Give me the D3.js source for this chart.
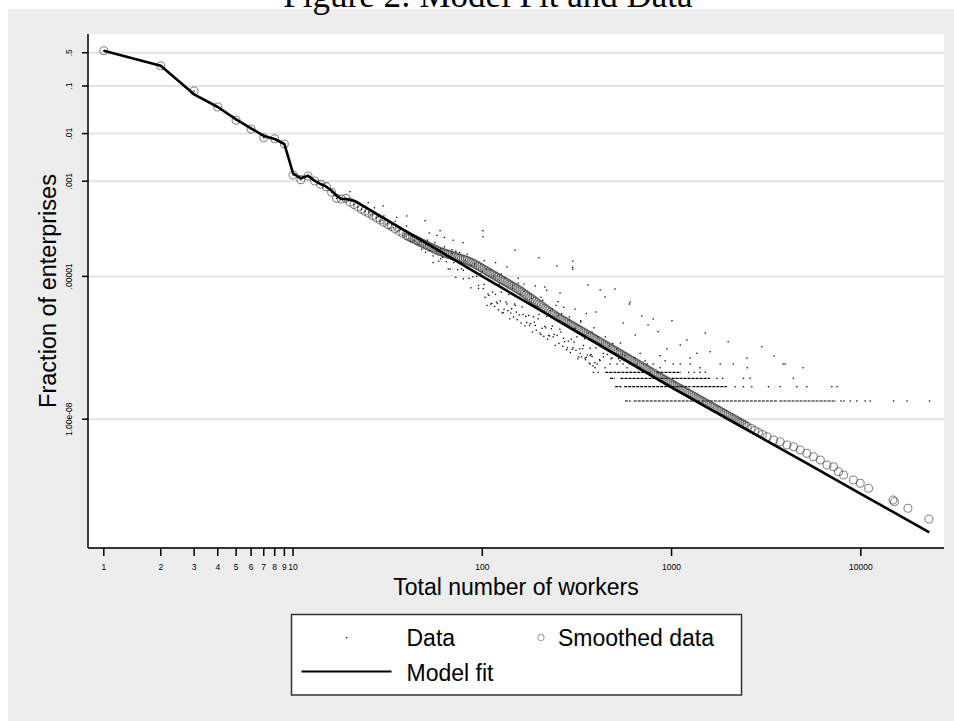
<!DOCTYPE html>
<html>
<head>
<meta charset="utf-8">
<script src="https://cdn.jsdelivr.net/npm/d3@7"></script>
<style>
body { margin: 0; background: #fff; }
svg { display: block; }
</style>
</head>
<body>
<svg id="chart" width="954" height="721"></svg>
<script>
// every pair is [log10(total workers), log10(fraction of enterprises)]

var fitLog = [
  [0,-0.258],[0.301,-0.574],[0.477,-1.174],[0.602,-1.441],[0.699,-1.70],[0.778,-1.889],
  [0.845,-2.05],[0.903,-2.113],[0.954,-2.218],[1,-2.834],[1.041,-2.94],[1.079,-2.884],
  [1.114,-2.99],[1.146,-3.06],[1.176,-3.115],[1.204,-3.2],[1.23,-3.305],[1.255,-3.374],
  [1.279,-3.374],[1.301,-3.395],[1.322,-3.41],[1.342,-3.452],[1.477,-3.769],[1.699,-4.29],
  [2,-5.0],[2.301,-5.70],[2.699,-6.63],[3,-7.33],[3.301,-8.004],[3.699,-8.893],[4,-9.567],[4.362,-10.376]
];

var smoothedLog = [
  [0,-0.258],[0.301,-0.574],[0.477,-1.105],[0.602,-1.441],[0.699,-1.72],[0.778,-1.903],
  [0.845,-2.086],[0.903,-2.107],[0.954,-2.218],[1,-2.87],[1.041,-2.968],[1.079,-2.89],
  [1.114,-2.996],[1.146,-3.065],[1.176,-3.115],[1.204,-3.233],[1.23,-3.36],[1.255,-3.374],
  [1.279,-3.36],[1.301,-3.44],[1.322,-3.49],[1.342,-3.54],[1.362,-3.59],[1.38,-3.63],
  [1.40,-3.672],[1.42,-3.720],[1.44,-3.767],[1.46,-3.814],[1.48,-3.861],[1.50,-3.908],
  [1.52,-3.955],[1.54,-4.002],[1.56,-4.049],[1.58,-4.096],[1.60,-4.143],[1.61,-4.162],
  [1.62,-4.182],[1.63,-4.201],[1.64,-4.221],[1.65,-4.240],[1.66,-4.26],[1.67,-4.279],
  [1.68,-4.299],[1.69,-4.317],[1.70,-4.336],[1.71,-4.355],[1.72,-4.373],[1.73,-4.392],
  [1.74,-4.41],[1.75,-4.429],[1.76,-4.447],[1.77,-4.466],[1.78,-4.483],[1.79,-4.496],
  [1.80,-4.509],[1.81,-4.522],[1.82,-4.535],[1.83,-4.548],[1.84,-4.561],[1.85,-4.574],
  [1.86,-4.587],[1.87,-4.600],[1.88,-4.613],[1.89,-4.626],[1.90,-4.639],[1.91,-4.652],
  [1.92,-4.665],[1.93,-4.683],[1.94,-4.702],[1.95,-4.720],[1.96,-4.739],[1.97,-4.761],
  [1.98,-4.785],[1.99,-4.808],[2.00,-4.832],[2.01,-4.855],[2.02,-4.879],[2.03,-4.902],
  [2.04,-4.925],[2.05,-4.949],[2.06,-4.972],[2.07,-4.995],[2.08,-5.018],[2.09,-5.042],
  [2.10,-5.065],[2.11,-5.088],[2.12,-5.112],[2.13,-5.135],[2.14,-5.158],[2.15,-5.182],
  [2.16,-5.205],[2.17,-5.228],[2.18,-5.251],[2.19,-5.275],[2.20,-5.298],[2.21,-5.326],
  [2.22,-5.355],[2.23,-5.383],[2.24,-5.411],[2.25,-5.440],[2.26,-5.468],[2.27,-5.496],
  [2.28,-5.524],[2.29,-5.553],[2.30,-5.581],[2.31,-5.609],[2.32,-5.638],[2.33,-5.666],
  [2.34,-5.694],[2.35,-5.723],[2.36,-5.751],[2.37,-5.779],[2.38,-5.807],[2.39,-5.834],
  [2.40,-5.858],[2.41,-5.881],[2.42,-5.905],[2.43,-5.928],[2.44,-5.951],[2.45,-5.975],
  [2.46,-5.998],[2.47,-6.021],[2.48,-6.044],[2.49,-6.068],[2.50,-6.091],[2.51,-6.114],
  [2.52,-6.138],[2.53,-6.161],[2.54,-6.184],[2.55,-6.208],[2.56,-6.231],[2.57,-6.254],
  [2.58,-6.277],[2.59,-6.301],[2.60,-6.324],[2.61,-6.347],[2.62,-6.371],[2.63,-6.394],
  [2.64,-6.417],[2.65,-6.441],[2.66,-6.464],[2.67,-6.487],[2.68,-6.510],[2.69,-6.534],
  [2.70,-6.557],[2.71,-6.580],[2.72,-6.604],[2.73,-6.627],[2.74,-6.650],[2.75,-6.674],
  [2.76,-6.697],[2.77,-6.720],[2.78,-6.743],[2.79,-6.767],[2.80,-6.790],[2.81,-6.813],
  [2.82,-6.837],[2.83,-6.860],[2.84,-6.883],[2.85,-6.907],[2.86,-6.930],[2.87,-6.953],
  [2.88,-6.976],[2.89,-7.000],[2.90,-7.023],[2.91,-7.046],[2.92,-7.070],[2.93,-7.093],
  [2.94,-7.116],[2.95,-7.140],[2.96,-7.163],[2.97,-7.186],[2.98,-7.209],[2.99,-7.233],
  [3.00,-7.256],[3.01,-7.278],[3.02,-7.301],[3.03,-7.323],[3.04,-7.345],[3.05,-7.368],
  [3.06,-7.390],[3.07,-7.413],[3.08,-7.435],[3.09,-7.457],[3.10,-7.480],[3.11,-7.502],
  [3.12,-7.524],[3.13,-7.547],[3.14,-7.569],[3.15,-7.592],[3.16,-7.614],[3.17,-7.636],
  [3.18,-7.659],[3.19,-7.681],[3.20,-7.703],[3.21,-7.726],[3.22,-7.748],[3.23,-7.771],
  [3.24,-7.793],[3.25,-7.815],[3.26,-7.838],[3.27,-7.860],[3.28,-7.882],[3.29,-7.905],
  [3.30,-7.927],[3.31,-7.949],[3.32,-7.972],[3.33,-7.994],[3.34,-8.017],[3.35,-8.039],
  [3.36,-8.061],[3.37,-8.084],[3.38,-8.106],[3.39,-8.128],[3.40,-8.151],[3.42,-8.19],
  [3.44,-8.235],[3.46,-8.28],[3.48,-8.32],
  [3.504,-8.368],[3.539,-8.437],[3.574,-8.473],[3.610,-8.542],[3.645,-8.578],[3.680,-8.647],
  [3.715,-8.716],[3.750,-8.788],[3.786,-8.857],[3.821,-8.962],[3.856,-8.998],[3.882,-9.103],
  [3.909,-9.172],[3.961,-9.277],[3.997,-9.347],[4.041,-9.452],[4.170,-9.697],[4.178,-9.733],
  [4.249,-9.872],[4.360,-10.097]
];

var dataLog = [
  [0,-0.258],[0.301,-0.574],[0.477,-1.105],[0.602,-1.441],[0.699,-1.72],[0.778,-1.903],
  [0.845,-2.086],[0.903,-2.107],[0.954,-2.218],[1,-2.87],[1.041,-2.968],[1.079,-2.89],
  [1.114,-2.996],[1.146,-3.065],[1.176,-3.115],[1.204,-3.233],[1.23,-3.36],[1.255,-3.374],
  [1.279,-3.36],[1.301,-3.22],[1.322,-3.49],[1.342,-3.54],[1.362,-3.59],[1.38,-3.63],
  [1.397,-3.45],[1.476,-3.52],[1.548,-3.76],[1.601,-3.73],[1.698,-3.83],[1.777,-4.04],
  [1.846,-4.24],[1.898,-4.29],[2.003,-4.04],[2.003,-4.17],[2.173,-4.45],[2.299,-4.61],
  [2.394,-4.78],[2.478,-4.68],[2.478,-4.81],[2.478,-4.85],
  [1.40,-3.65],[1.41,-3.71],[1.42,-3.69],[1.43,-3.56],[1.44,-3.77],[1.45,-3.75],
  [1.46,-3.85],[1.47,-3.82],[1.48,-3.73],[1.49,-3.90],[1.50,-3.88],[1.51,-4.00],
  [1.52,-3.90],[1.53,-3.98],[1.54,-3.84],[1.55,-4.05],[1.56,-4.03],[1.57,-4.01],
  [1.58,-4.14],[1.59,-4.11],[1.60,-3.94],[1.61,-4.13],[1.62,-4.27],[1.63,-4.17],
  [1.64,-4.24],[1.65,-4.15],[1.66,-4.32],[1.67,-4.28],[1.68,-4.43],[1.69,-4.27],
  [1.70,-4.34],[1.71,-4.24],[1.72,-4.46],[1.73,-4.35],[1.74,-4.57],[1.75,-4.29],
  [1.76,-4.47],[1.77,-4.68],[1.78,-4.42],[1.79,-4.60],[1.80,-4.38],[1.81,-4.69],
  [1.82,-4.58],[1.83,-4.85],[1.84,-4.52],[1.85,-4.71],[1.86,-4.47],[1.87,-4.86],
  [1.88,-4.68],[1.89,-4.84],[1.90,-5.05],[1.91,-4.66],[1.92,-4.83],[1.93,-5.04],
  [1.94,-4.77],[1.95,-5.01],[1.96,-4.73],[1.97,-5.00],[1.98,-5.25],[1.99,-4.95],
  [1.70,-4.49],[1.72,-4.09],[1.74,-4.71],[1.76,-4.14],[1.78,-4.63],[1.80,-4.18],
  [1.82,-4.84],[1.84,-4.44],[1.86,-5.02],[1.88,-4.50],[1.90,-4.87],[1.92,-4.53],
  [1.94,-5.24],[1.96,-4.76],[1.98,-5.19],
  [2.00,-4.90],[2.01,-5.17],[2.02,-4.85],[2.03,-5.37],[2.04,-5.09],[2.05,-5.57],
  [2.06,-4.99],[2.07,-5.38],[2.08,-5.57],[2.09,-5.16],[2.10,-5.33],[2.11,-5.76],
  [2.12,-5.03],[2.13,-5.58],[2.14,-5.38],[2.15,-5.77],[2.16,-5.25],[2.17,-5.58],
  [2.18,-5.75],[2.19,-5.14],[2.20,-5.37],[2.21,-5.64],[2.22,-5.31],[2.23,-5.84],
  [2.24,-5.56],[2.25,-6.03],[2.26,-5.46],[2.27,-5.85],[2.28,-6.03],[2.29,-5.63],
  [2.30,-5.80],[2.31,-6.22],[2.32,-5.50],[2.33,-6.05],[2.34,-5.84],[2.35,-6.24],
  [2.36,-5.72],[2.37,-6.04],[2.38,-6.22],[2.39,-5.61],[2.40,-5.83],[2.41,-6.11],
  [2.42,-5.78],[2.43,-6.30],[2.44,-6.03],[2.45,-6.50],[2.46,-5.92],[2.47,-6.32],
  [2.48,-6.50],[2.49,-6.09],[2.50,-6.27],[2.51,-6.69],[2.52,-5.96],[2.53,-6.52],
  [2.54,-6.31],[2.55,-6.70],[2.56,-6.19],[2.57,-6.51],[2.58,-6.68],[2.59,-6.08],
  [2.005,-5.26],[2.015,-5.44],[2.025,-5.61],[2.035,-5.40],[2.045,-5.58],[2.055,-5.33],
  [2.065,-5.63],[2.075,-5.54],[2.085,-5.70],[2.095,-5.52],[2.105,-5.77],[2.115,-5.69],
  [2.125,-5.54],[2.135,-5.72],[2.145,-5.89],[2.155,-5.68],[2.165,-5.85],[2.175,-5.61],
  [2.185,-5.91],[2.195,-5.81],[2.205,-5.98],[2.215,-5.80],[2.225,-6.04],[2.235,-5.97],
  [2.245,-5.82],[2.255,-5.99],[2.265,-6.17],[2.275,-5.96],[2.285,-6.13],[2.295,-5.89],
  [2.305,-6.19],[2.315,-6.09],[2.325,-6.26],[2.335,-6.08],[2.345,-6.32],[2.355,-6.25],
  [2.365,-6.10],[2.375,-6.27],[2.385,-6.45],[2.395,-6.24],[2.405,-6.41],[2.415,-6.17],
  [2.425,-6.47],[2.435,-6.37],[2.445,-6.54],[2.455,-6.36],[2.465,-6.60],[2.475,-6.53],
  [2.485,-6.38],[2.495,-6.55],[2.505,-6.73],[2.515,-6.52],[2.525,-6.69],[2.535,-6.45],
  [2.545,-6.75],[2.555,-6.65],[2.565,-6.82],[2.575,-6.64],[2.585,-6.88],[2.595,-6.81],
  [2.01,-4.67],[2.04,-4.87],[2.07,-4.71],[2.10,-4.95],[2.13,-4.80],[2.16,-5.19],
  [2.19,-5.04],[2.22,-5.16],[2.25,-5.36],[2.28,-5.20],[2.31,-5.44],[2.34,-5.29],
  [2.37,-5.68],[2.40,-5.53],[2.43,-5.65],[2.46,-5.85],[2.49,-5.69],[2.52,-5.93],
  [2.55,-5.78],[2.58,-6.17],
  [2.60,-6.50],[2.61,-6.27],[2.62,-6.75],[2.63,-6.42],[2.64,-6.69],[2.65,-6.27],
  [2.66,-6.64],[2.67,-6.46],[2.68,-6.73],[2.69,-6.41],[2.70,-6.63],[2.71,-6.53],
  [2.72,-6.73],[2.73,-6.40],[2.74,-6.64],
  [2.777,-5.580],[2.843,-5.832],[2.903,-5.895],[3.002,-5.931],[3.178,-6.189],[3.299,-6.372],
  [3.477,-6.477],[3.542,-6.672],[3.081,-6.336],[2.975,-6.525],[3.134,-6.616],[3.204,-6.582],
  [3.046,-6.441],[2.929,-6.162],[2.876,-6.021],[2.808,-6.231],[2.744,-5.979],[2.602,-5.748],
  [2.623,-5.286],[2.701,-5.265],[2.559,-5.181],[2.649,-5.433],[2.781,-5.538],[2.33,-5.223],
  [2.411,-5.349]
];

// dense rows of sizes that share one enterprise count: [count, log10 first size, log10 last size]
var countRuns = [
  [1,2.754,2.785],[1,2.800,3.150],[1,3.160,3.560],[1,3.570,3.870],
  [2,2.702,2.735],[2,2.750,3.100],[2,3.110,3.292],
  [3,2.675,2.700],[3,2.730,2.990],[3,3.000,3.204],
  [4,2.650,2.890],[4,2.920,3.050]
];

// isolated sizes on those rows: [count, log10 size]
var countDots = [
  [1,3.895],[1,3.91],[1,3.944],[1,3.979],[1,4.023],[1,4.050],[1,4.173],[1,4.244],[1,4.363],
  [2,3.336],[2,3.380],[2,3.424],[2,3.512],[2,3.574],[2,3.662],[2,3.715],[2,3.847],[2,3.874],
  [3,3.24],[3,3.27],[3,3.380],[3,3.415],[3,3.644],
  [4,2.587],[4,2.612],[4,3.09],[4,3.12],[4,3.15],[4,3.178],
  [5,2.596],[5,2.649],[5,2.765],[5,2.834],[5,2.940],[5,3.151],[5,3.40],[5,3.695],
  [6,2.570],[6,2.607],[6,2.675],[6,2.712],[6,2.744],[6,2.781],[6,2.818],[6,2.871],
  [6,2.903],[6,3.009],[6,3.046],[6,3.098],[6,3.257],[6,3.326],[6,3.590],[6,3.600],
  [7,2.622],[7,2.728],[7,2.860],[7,2.966],
  [8,2.543],[8,2.686],[8,2.807],[8,3.098],[8,3.398],
  [9,2.570],[9,2.754],[9,2.940],
  [10,2.517],[10,2.639],[10,2.834]
];
var totalFirms = 4.15e7;

var xTicks = [1, 2, 3, 4, 5, 6, 7, 8, 9, 10, 100, 1000, 10000];
var xTickLabels = ['1', '2', '3', '4', '5', '6', '7', '8', '9', '10', '100', '1000', '10000'];
var yTicks = [0.5, 0.1, 0.01, 0.001, 0.00001, 1e-8];
var yTickLabels = ['.5', '.1', '.01', '.001', '.00001', '1.00e-08'];

var p10 = function(v) { return Math.pow(10, v); };

var svg = d3.select('#chart');
var sans = '"Liberation Sans", Arial, Helvetica, sans-serif';

// frame
svg.append('rect').attr('x', 8).attr('y', 9).attr('width', 946).attr('height', 712).attr('fill', '#ededed');
svg.append('text')
    .attr('x', 488).attr('y', 7)
    .attr('text-anchor', 'middle')
    .attr('font-family', '"Liberation Serif", "Times New Roman", serif')
    .attr('font-size', 35)
    .text('Figure 2: Model Fit and Data');

var plotL = 88, plotR = 944, plotT = 34, plotB = 548;
svg.append('rect').attr('x', plotL).attr('y', plotT)
    .attr('width', plotR - plotL).attr('height', plotB - plotT).attr('fill', '#fff');

var x = d3.scaleLog().domain([p10(-0.0835), p10(4.4396)]).range([plotL, plotR]);
var y = d3.scaleLog().domain([p10(0.0924), p10(-10.706)]).range([plotT, plotB]);

// gridlines
svg.selectAll('line.grid')
    .data(yTicks)
    .enter()
    .append('line')
    .attr('class', 'grid')
    .attr('x1', plotL).attr('x2', plotR)
    .attr('y1', function(d) { return y(d); })
    .attr('y2', function(d) { return y(d); })
    .attr('stroke', '#e3e3e3')
    .attr('stroke-width', 2);

var plot = svg.append('g');

// data rows at low counts
plot.selectAll('line.run')
    .data(countRuns)
    .enter()
    .append('line')
    .attr('class', 'run')
    .attr('x1', function(d) { return x(p10(d[1])); })
    .attr('x2', function(d) { return x(p10(d[2])); })
    .attr('y1', function(d) { return y(d[0] / totalFirms); })
    .attr('y2', function(d) { return y(d[0] / totalFirms); })
    .attr('stroke', '#000')
    .attr('stroke-width', 1.2)
    .attr('stroke-dasharray', '3,1');

plot.selectAll('rect.cdot')
    .data(countDots)
    .enter()
    .append('rect')
    .attr('class', 'cdot')
    .attr('x', function(d) { return x(p10(d[1])) - 0.65; })
    .attr('y', function(d) { return y(d[0] / totalFirms) - 0.65; })
    .attr('width', 1.3).attr('height', 1.3)
    .attr('fill', '#000');

plot.selectAll('rect.dot')
    .data(dataLog)
    .enter()
    .append('rect')
    .attr('class', 'dot')
    .attr('x', function(d) { return x(p10(d[0])) - 0.65; })
    .attr('y', function(d) { return y(p10(d[1])) - 0.65; })
    .attr('width', 1.3).attr('height', 1.3)
    .attr('fill', '#000');

// smoothed data: translucent outlines so overlapping circles darken into a band
plot.selectAll('circle.smooth')
    .data(smoothedLog)
    .enter()
    .append('circle')
    .attr('class', 'smooth')
    .attr('cx', function(d) { return x(p10(d[0])); })
    .attr('cy', function(d) { return y(p10(d[1])); })
    .attr('r', 4)
    .attr('fill', 'none')
    .attr('stroke', '#333')
    .attr('stroke-opacity', 0.6)
    .attr('stroke-width', 1.1);

// model fit
var line = d3.line()
    .x(function(d) { return x(p10(d[0])); })
    .y(function(d) { return y(p10(d[1])); });

plot.append('path')
    .datum(fitLog)
    .attr('d', line)
    .attr('fill', 'none')
    .attr('stroke', '#000')
    .attr('stroke-width', 2.6)
    .attr('stroke-linejoin', 'round');

// axes
var yAxis = svg.append('g');
yAxis.append('line').attr('x1', plotL).attr('x2', plotL).attr('y1', plotT).attr('y2', plotB)
    .attr('stroke', '#000').attr('stroke-width', 1.5);
yAxis.selectAll('line.tick')
    .data(yTicks)
    .enter()
    .append('line')
    .attr('class', 'tick')
    .attr('x1', plotL - 6).attr('x2', plotL)
    .attr('y1', function(d) { return y(d); })
    .attr('y2', function(d) { return y(d); })
    .attr('stroke', '#000').attr('stroke-width', 1.5);
yAxis.selectAll('text')
    .data(yTicks)
    .enter()
    .append('text')
    .attr('transform', function(d) { return 'translate(71.5,' + y(d) + ') rotate(-90)'; })
    .attr('text-anchor', 'middle')
    .attr('font-family', sans)
    .attr('font-size', 8.5)
    .text(function(d, i) { return yTickLabels[i]; });

var xAxis = svg.append('g');
xAxis.append('line').attr('x1', plotL).attr('x2', plotR).attr('y1', plotB).attr('y2', plotB)
    .attr('stroke', '#333').attr('stroke-width', 2);
xAxis.selectAll('line.tick')
    .data(xTicks)
    .enter()
    .append('line')
    .attr('class', 'tick')
    .attr('x1', function(d) { return x(d); })
    .attr('x2', function(d) { return x(d); })
    .attr('y1', plotB).attr('y2', plotB + 8)
    .attr('stroke', '#000').attr('stroke-width', 1.5);
xAxis.selectAll('text')
    .data(xTicks)
    .enter()
    .append('text')
    .attr('x', function(d) { return x(d); })
    .attr('y', 570)
    .attr('text-anchor', 'middle')
    .attr('font-family', sans)
    .attr('font-size', 8.5)
    .text(function(d, i) { return xTickLabels[i]; });

svg.append('text')
    .attr('x', (plotL + plotR) / 2).attr('y', 595)
    .attr('text-anchor', 'middle')
    .attr('font-family', sans).attr('font-size', 23)
    .text('Total number of workers');

svg.append('text')
    .attr('transform', 'translate(55.5,' + (plotT + plotB) / 2 + ') rotate(-90)')
    .attr('text-anchor', 'middle')
    .attr('font-family', sans).attr('font-size', 23.5)
    .text('Fraction of enterprises');

// legend
var legend = svg.append('g');
legend.append('rect').attr('x', 291.5).attr('y', 614.5).attr('width', 450).attr('height', 80.5)
    .attr('fill', '#fff').attr('stroke', '#333').attr('stroke-width', 1.5);
legend.append('rect').attr('x', 346).attr('y', 637).attr('width', 1.3).attr('height', 1.3).attr('fill', '#000');
legend.append('circle').attr('cx', 541).attr('cy', 637.5).attr('r', 3.2)
    .attr('fill', 'none').attr('stroke', '#333').attr('stroke-opacity', 0.5).attr('stroke-width', 1);
legend.append('line').attr('x1', 301.5).attr('x2', 391.5).attr('y1', 671.5).attr('y2', 671.5)
    .attr('stroke', '#000').attr('stroke-width', 2);
var legendItems = [['Data', 406.5, 645.5], ['Smoothed data', 558, 645.5], ['Model fit', 406.5, 681]];
legend.selectAll('text')
    .data(legendItems)
    .enter()
    .append('text')
    .attr('x', function(d) { return d[1]; })
    .attr('y', function(d) { return d[2]; })
    .attr('font-family', sans).attr('font-size', 23)
    .text(function(d) { return d[0]; });
</script>
</body>
</html>
